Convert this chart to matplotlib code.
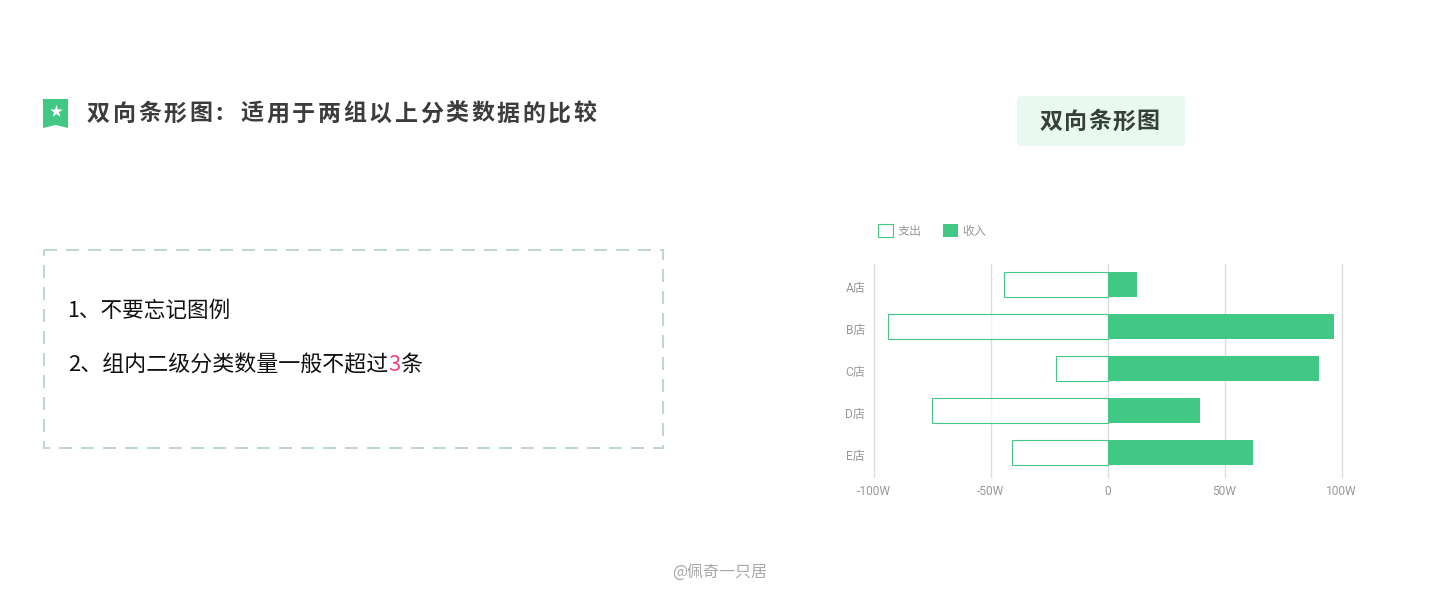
import matplotlib
matplotlib.use('Agg')
from matplotlib import pyplot as plt
from matplotlib.patches import Polygon, FancyBboxPatch, Rectangle
from matplotlib.transforms import ScaledTranslation

plt.rcParams['font.family'] = ['Noto Sans CJK SC', 'DejaVu Sans']
LATIN = ['Roboto', 'Noto Sans CJK SC']

stores = ['A店', 'B店', 'C店', 'D店', 'E店']
spend = [-44.4, -93.6, -22, -75, -40.6]
income = [12.4, 97, 90.5, 39.5, 62]
xticks = [-100, -50, 0, 50, 100]
xticklabels = ['-100W', '-50W', '0', '50W', '100W']

GREEN = '#40c884'
W, H = 1440, 615
PX = 0.72  # px to pt at dpi 100

fig = plt.figure(figsize=(W / 100, H / 100), dpi=100, facecolor='white')

# overlay in pixel coords, for everything that is not the chart
bg = fig.add_axes([0, 0, 1, 1])
bg.set_xlim(0, W)
bg.set_ylim(H, 0)
bg.axis('off')


def spaced(x, y, s, step, size, color, weight):
    '''matplotlib has no letter spacing, so one text per character'''
    for i, ch in enumerate(s):
        bg.text(x + i * step, y, ch, fontsize=size * PX, color=color, weight=weight,
                ha='left', va='center')


def row(x, y, parts, size):
    '''several colours on one line'''
    r = fig.canvas.get_renderer()
    for s, color in parts:
        t = bg.text(x, y, s, fontsize=size * PX, color=color, ha='left', va='center')
        x += t.get_window_extent(r).width


# bookmark icon
bg.add_patch(Polygon([(43, 99), (68, 99), (68, 128), (55.5, 125), (43, 128)], closed=True,
                     facecolor=GREEN, edgecolor='none'))
bg.scatter([55.5], [111], marker='*', s=90, color='white', linewidths=0)

spaced(87, 114, '双向条形图:适用于两组以上分类数据的比较', 25.6, 23, '#3c3c3c', 'bold')

# button style header
bg.add_patch(FancyBboxPatch((1019, 98), 164, 46, boxstyle='round,pad=0,rounding_size=2',
                            mutation_aspect=1, facecolor='#e9f8f0', edgecolor='#e9f8f0', linewidth=3))
spaced(1040, 122, '双向条形图', 24.2, 23, '#35403b', 'bold')

# dashed box
bg.add_patch(Rectangle((44, 250), 619, 198, fill=False, edgecolor='#bcd8cf', linewidth=2 * PX,
                       linestyle=(0, (6.5, 4.5))))
row(67.5, 311, [('1、不要忘记图例', '#111111')], 21.6)
row(68, 365, [('2、组内二级分类数量一般不超过', '#111111'), ('3', '#f0487a'), ('条', '#111111')], 22)

bg.text(720, 572.5, '@佩奇一只居', fontsize=16 * PX, color='#a8a8a8', ha='center', va='center')

# chart, the axes run from the -100W to the 100W gridline
ax = fig.add_axes([873.5 / W, 1 - 473.5 / H, 468 / W, 210 / H])
ax.set_facecolor('none')
ax.barh(stores, income, height=0.6, color=GREEN, zorder=3, label='收入')
ax.barh(stores, spend, height=0.6, facecolor=(1, 1, 1, 0.65), edgecolor=GREEN, linewidth=0.8,
        zorder=3, label='支出')
ax.set_xlim(-100, 100)
ax.set_ylim(4.5, -0.5)
ax.set_xticks(xticks)
ax.set_xticklabels(xticklabels, family=LATIN)
ax.set_yticks(range(len(stores)))
ax.set_yticklabels(stores, family=LATIN)
ax.grid(axis='x', color='#dddddd', linewidth=1, zorder=0, clip_on=False)
ax.set_axisbelow(True)
for s in ax.spines.values():
    s.set_visible(False)
ax.tick_params(axis='x', length=3, width=1, color='#dddddd', labelsize=12 * PX, labelcolor='#999999', pad=5)
ax.tick_params(axis='y', length=0, labelsize=12 * PX, labelcolor='#999999', pad=6)
for t in ax.get_yticklabels():
    t.set_transform(t.get_transform() + ScaledTranslation(0, -2 / 100, fig.dpi_scale_trans))

h, l = ax.get_legend_handles_labels()
leg = ax.legend(h[::-1], l[::-1], ncol=2, loc='center left', bbox_to_anchor=(878 / W, 1 - 231 / H),
                bbox_transform=fig.transFigure, frameon=False, borderpad=0, borderaxespad=0,
                fontsize=12 * PX, handlelength=1.25, handleheight=1.25, handletextpad=0.42,
                columnspacing=1.72, labelcolor='#999999')

fig.savefig('out.png', dpi=100)
